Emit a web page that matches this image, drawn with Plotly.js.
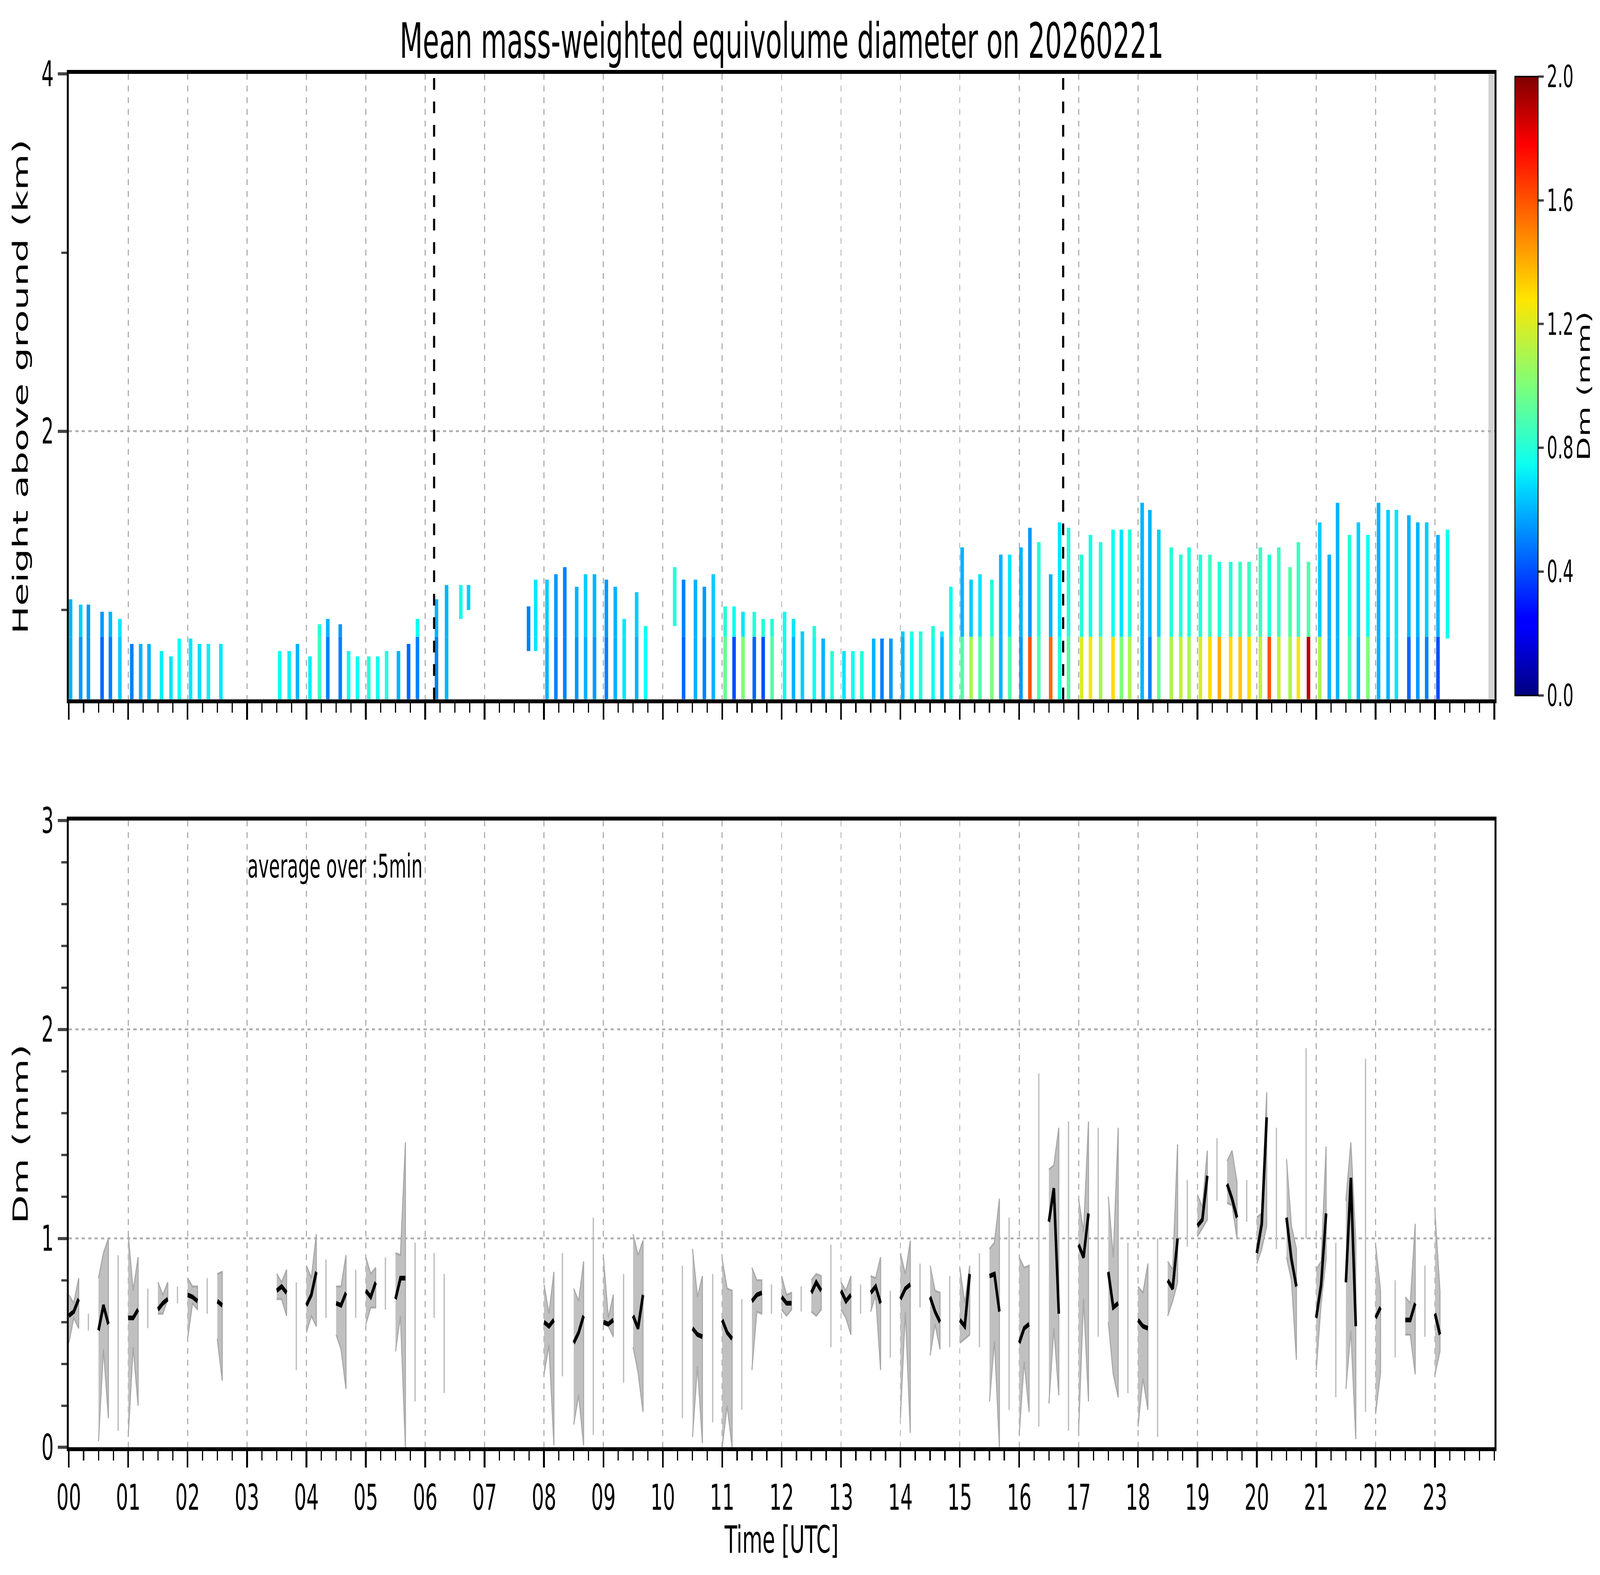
<!DOCTYPE html>
<html><head><meta charset="utf-8">
<script src="https://cdn.plot.ly/plotly-3.0.1.min.js"></script>
<style>html,body{margin:0;padding:0;background:#fff;overflow:hidden}
#chart{width:7442px;height:4031px;transform-origin:0 0}</style>
</head><body><div id="chart"></div>
<script>
// ---- top panel: radar-like stripes (time h, top km, base km, Dm upper, Dm lower) ----
const stT = [0.03,0.2,0.33,0.56,0.7,0.86, 1.06,1.21,1.35,1.56,1.72,1.86, 2.05,2.2,2.35,2.56,
 3.55,3.71,3.85, 4.06,4.22,4.36,4.57,4.71,4.86, 5.05,5.2,5.35,5.55,5.72,5.87,
 6.19,6.36,6.6,6.73, 7.74,7.86,
 8.05,8.2,8.35,8.55,8.7,8.85,9.05,9.2,9.35,9.56,9.71,
 10.2,10.35,10.55,10.7,10.85,11.05,11.2,11.35,11.54,11.69,11.84,
 12.05,12.2,12.35,12.55,12.7,12.85,13.05,13.2,13.35,13.55,13.69,13.84,
 14.04,14.19,14.34,14.55,14.7,14.85,
 15.04,15.19,15.34,15.54,15.69,15.84,16.03,16.18,16.33,16.53,16.68,16.83,
 17.05,17.2,17.37,17.58,17.72,17.86,18.07,18.2,18.35,18.56,18.72,18.86,
 19.05,19.21,19.37,19.56,19.72,19.87,20.06,20.21,20.37,20.56,20.7,20.87,
 21.06,21.22,21.36,21.56,21.71,21.87,22.05,22.21,22.35,22.56,22.71,22.86,23.05,23.21];
const stTop = [1.06,1.03,1.03,0.99,0.99,0.95, 0.81,0.81,0.81,0.77,0.74,0.84, 0.84,0.81,0.81,0.81,
 0.77,0.77,0.81, 0.74,0.92,0.95,0.92,0.77,0.74, 0.74,0.74,0.77,0.77,0.81,0.95,
 1.06,1.14,1.14,1.14, 1.02,1.17,
 1.17,1.2,1.24,1.13,1.2,1.2,1.17,1.13,0.95,1.1,0.91,
 1.24,1.17,1.17,1.13,1.2,1.02,1.02,0.99,0.99,0.95,0.95,
 0.99,0.95,0.88,0.91,0.84,0.77,0.77,0.77,0.77,0.84,0.84,0.84,
 0.88,0.88,0.88,0.91,0.88,1.13,
 1.35,1.17,1.2,1.17,1.31,1.31,1.35,1.46,1.38,1.2,1.49,1.46,
 1.31,1.42,1.38,1.45,1.45,1.45,1.6,1.56,1.45,1.35,1.31,1.35,
 1.31,1.31,1.27,1.27,1.27,1.27,1.35,1.31,1.35,1.24,1.38,1.27,
 1.49,1.31,1.6,1.42,1.49,1.42,1.6,1.56,1.56,1.53,1.49,1.49,1.42,1.45];
const stBase = [0.5,0.5,0.5,0.5,0.5,0.5, 0.5,0.5,0.5,0.5,0.5,0.5, 0.5,0.5,0.5,0.5,
 0.5,0.5,0.5, 0.5,0.5,0.5,0.5,0.5,0.5, 0.5,0.5,0.5,0.5,0.5,0.5,
 0.5,0.5,0.95,1.0, 0.77,0.77,
 0.5,0.5,0.5,0.5,0.5,0.5,0.5,0.5,0.5,0.5,0.5,
 0.91,0.5,0.5,0.5,0.5,0.5,0.5,0.5,0.5,0.5,0.5,
 0.5,0.5,0.5,0.5,0.5,0.5,0.5,0.5,0.5,0.5,0.5,0.5,
 0.5,0.5,0.5,0.5,0.5,0.5,
 0.5,0.5,0.5,0.5,0.5,0.5,0.5,0.5,0.5,0.5,0.5,0.5,
 0.5,0.5,0.5,0.5,0.5,0.5,0.5,0.5,0.5,0.5,0.5,0.5,
 0.5,0.5,0.5,0.5,0.5,0.5,0.5,0.5,0.5,0.5,0.5,0.5,
 0.5,0.5,0.5,0.5,0.5,0.5,0.5,0.5,0.5,0.5,0.5,0.5,0.5,0.84];
const stUp = [0.6,0.65,0.55,0.55,0.6,0.7, 0.6,0.65,0.6,0.75,0.72,0.75, 0.7,0.7,0.72,0.7,
 0.75,0.7,0.6, 0.7,0.8,0.6,0.55,0.72,0.75, 0.75,0.75,0.8,0.72,0.55,0.75,
 0.6,0.6,0.75,0.65, 0.5,0.7,
 0.65,0.55,0.5,0.6,0.65,0.6,0.55,0.6,0.7,0.65,0.75,
 0.8,0.5,0.6,0.55,0.65,0.8,0.75,0.7,0.8,0.8,0.8,
 0.75,0.7,0.65,0.8,0.75,0.8,0.75,0.75,0.75,0.8,0.65,0.65,
 0.65,0.8,0.8,0.8,0.7,0.75,
 0.6,0.65,0.7,0.8,0.6,0.7,0.6,0.55,0.8,0.6,0.7,0.8,
 0.8,0.75,0.8,0.75,0.7,0.8,0.6,0.6,0.65,0.8,0.8,0.8,
 0.8,0.85,0.8,0.8,0.85,0.85,0.85,0.8,0.85,0.9,0.85,0.9,
 0.65,0.6,0.6,0.8,0.65,0.75,0.6,0.65,0.7,0.6,0.6,0.65,0.6,0.75];
const stLow = [0.6,0.55,0.55,0.45,0.5,0.65, 0.5,0.6,0.6,0.72,0.7,0.75, 0.7,0.68,0.72,0.7,
 0.75,0.72,0.6, 0.72,0.85,0.5,0.5,0.75,0.75, 0.8,0.75,0.8,0.6,0.45,0.5,
 0.5,0.6,0.75,0.65, 0.5,0.7,
 0.6,0.5,0.5,0.55,0.6,0.55,0.5,0.6,0.7,0.6,0.75,
 0.8,0.45,0.6,0.5,0.6,0.95,0.4,1.0,0.45,0.4,0.9,
 0.75,0.6,0.65,0.75,0.6,0.8,0.7,0.75,0.8,0.6,0.5,0.55,
 0.6,0.75,0.8,0.75,0.6,0.8,
 0.9,1.1,0.9,1.0,0.6,0.9,0.55,1.6,0.9,1.55,0.8,0.9,
 1.2,1.25,1.1,1.3,1.0,1.1,0.6,0.5,0.95,1.1,1.15,1.1,
 1.2,1.3,1.4,1.3,1.35,1.3,1.15,1.6,1.15,1.1,1.25,1.9,
 1.1,0.6,0.6,0.9,0.6,1.0,0.6,0.6,0.7,0.45,0.55,0.5,0.4,0.75];
const lowLayerTop = 0.85;
const markT = [6.15, 16.74];

// ---- bottom panel: 5-min averages (start hour, mean, min, max) ----
const grpT = [0.0,0.5,1.0,1.5,2.0,2.5,3.5,4.0,4.5,5.0,5.5,8.0,8.5,9.0,9.5,10.5,11.0,11.5,12.0,12.5,13.0,13.5,14.0,14.5,15.0,15.5,16.0,16.5,17.0,17.5,18.0,18.5,19.0,19.5,20.0,20.5,21.0,21.5,22.0,22.5,23.0];
const grpM = [[.63,.65,.71],[.56,.68,.59],[.62,.62,.66],[.66,.69,.71],[.73,.72,.70],[.70,.68],[.75,.77,.74],[.68,.73,.84],[.69,.68,.74],[.75,.72,.79],[.71,.81,.81],
 [.6,.58,.61],[.5,.55,.63],[.6,.59,.61],[.63,.57,.73],[.57,.54,.53],[.61,.55,.52],[.7,.73,.74],[.72,.69,.69],[.74,.79,.75],[.75,.7,.73],[.74,.77,.69],[.71,.76,.78],[.72,.65,.6],
 [.61,.58,.83],[.82,.83,.65],[.5,.57,.59],[1.08,1.24,.64],[.97,.91,1.12],[.84,.67,.69],[.61,.58,.57],[.8,.76,1.0],[1.06,1.09,1.3],[1.26,1.19,1.1],[.93,1.07,1.58],[1.1,.9,.77],
 [.62,.78,1.12],[.79,1.29,.58],[.62,.67],[.61,.61,.69],[.64,.54]];
const grpLo = [[.5,.62,.57],[.03,.47,.14],[.05,.48,.2],[.64,.64,.71],[.52,.69,.66],[.52,.32],[.71,.71,.63],[.55,.63,.58],[.54,.47,.28],[.59,.67,.67],[.46,.63,0],
 [.35,.49,.01],[.11,.25,.01],[.59,.58,.53],[.48,.36,.17],[.05,.39,.02],[0,.2,0],[.37,.65,.64],[.66,.63,.66],[.65,.63,.66],[.66,.62,.54],[.65,.73,.37],[.14,.65,.07],[.44,.59,.47],
 [.5,.52,.54],[.22,.51,0],[.06,.41,.17],[.21,.57,.25],[.08,.71,.22],[.6,.35,.24],[.1,.33,.18],[.63,.7,.79],[1.01,1.05,1.09],[1.17,1.16,1.0],[.88,.95,1.06],[.91,.8,.42],
 [.37,.69,.9],[.28,.56,.04],[.16,.36],[.54,.54,.35],[.35,.46]];
const grpHi = [[.73,.69,.81],[.81,.93,1.0],[1.02,.75,.91],[.79,.73,.79],[.81,.77,.77],[.83,.84],[.83,.79,.85],[.87,.81,1.02],[.77,.77,.92],[.91,.83,.86],[.93,.92,1.46],
 [.78,.64,.84],[.76,.7,.89],[.91,.62,.73],[1.02,.92,.99],[.95,.72,.82],[.9,.76,.75],[.86,.8,.8],[.82,.73,.74],[.8,.83,.82],[.79,.75,.82],[.82,.81,.91],[.93,.83,.99],[.87,.75,.74],
 [.86,.69,.87],[.95,.98,1.19],[.91,.86,.87],[1.33,1.35,1.53],[1.19,1.03,1.56],[1.2,.91,1.53],[.77,.74,.88],[.89,.85,1.45],[1.21,1.15,1.42],[1.37,1.42,1.27],[1.1,1.12,1.7],[1.38,1.06,.95],
 [.85,.89,1.44],[1.18,1.46,.99],[.97,.75],[.72,.69,1.07],[1.12,.75]];
const vlT  = [0.33,0.83,1.33,1.83,2.33,3.83,4.33,4.83,5.33,5.83,6.15,6.32,8.31,8.83,9.34,10.33,10.84,11.33,11.83,12.33,12.83,13.33,13.83,14.33,14.83,15.33,15.83,16.33,16.83,17.33,17.83,18.33,18.83,19.33,19.83,20.33,20.83,21.33,21.83,22.33,22.83];
const vlLo = [.56,.08,.57,.69,.64,.37,.62,.62,.66,.22,.62,.26,.34,.06,.31,.14,.12,.18,.64,.65,.48,.64,.43,.67,.48,.48,.18,.1,.08,.53,.26,.05,.96,1.18,1.08,.95,1.0,.24,.17,.43,.53];
const vlHi = [.64,.92,.76,.77,.81,.79,.9,.85,.91,.98,.93,.83,.93,1.1,.83,.87,.83,.71,.78,.77,.97,.78,.75,.88,.82,.93,1.1,1.79,1.56,1.53,.98,1.0,1.28,1.48,1.28,1.53,1.91,.98,1.86,.8,.87];
const hourLabels = Array.from({length:24},(_,i)=>String(i).padStart(2,'0'));
const cbTicks = [0,0.4,0.8,1.2,1.6,2.0];

// fit the 7442x4031 figure into the actual window (the window may be narrower)
const el=document.getElementById('chart');
const sx=Math.min(1,(window.innerWidth||7442)/7442), sy=Math.min(1,(window.innerHeight||4031)/4031);
el.style.transform='scale('+sx+','+sy+')';

// ---- build traces ----
const STEP = 5/60;
const lowX=[],lowB=[],lowH=[],lowC=[],upX=[],upB=[],upH=[],upC=[];
stT.forEach((t,i)=>{
  const b=stBase[i], top=stTop[i];
  if (b < lowLayerTop) { const e=Math.min(top,lowLayerTop); lowX.push(t); lowB.push(b); lowH.push(e-b); lowC.push(stLow[i]); }
  if (top > lowLayerTop) { const s=Math.max(b,lowLayerTop); upX.push(t); upB.push(s); upH.push(top-s); upC.push(stUp[i]); }
});
const jet=[[0,'#00007f'],[0.11,'#0000ff'],[0.125,'#0000ff'],[0.34,'#00dcff'],[0.375,'#0dfff0'],[0.5,'#7dff7a'],[0.64,'#ffe500'],[0.89,'#ff0000'],[1,'#7f0000']];
const traces=[];
traces.push({type:'bar',x:lowX,base:lowB,y:lowH,width:0.06,marker:{color:lowC,coloraxis:'coloraxis',line:{width:0}},xaxis:'x',yaxis:'y',hoverinfo:'skip',showlegend:false});
traces.push({type:'bar',x:upX,base:upB,y:upH,width:0.06,marker:{color:upC,coloraxis:'coloraxis',line:{width:0}},xaxis:'x',yaxis:'y',hoverinfo:'skip',showlegend:false});

const vx=[],vy=[];
vlT.forEach((t,i)=>{vx.push(t,t,null); vy.push(vlLo[i],vlHi[i],null);});
traces.push({type:'scatter',mode:'lines',x:vx,y:vy,line:{color:'#bdbdbd',width:6},xaxis:'x2',yaxis:'y2',hoverinfo:'skip',showlegend:false});
grpT.forEach((t0,g)=>{
  const ts=grpM[g].map((_,k)=>t0+k*STEP);
  traces.push({type:'scatter',mode:'lines',x:ts.concat(ts.slice().reverse()),y:grpHi[g].concat(grpLo[g].slice().reverse()),
    fill:'toself',fillcolor:'#c0c0c0',line:{color:'#a8a8a8',width:5},xaxis:'x2',yaxis:'y2',hoverinfo:'skip',showlegend:false});
});
const mx=[],my=[];
grpT.forEach((t0,g)=>{grpM[g].forEach((v,k)=>{mx.push(t0+k*STEP); my.push(v);}); mx.push(null); my.push(null);});
traces.push({type:'scatter',mode:'lines',x:mx,y:my,line:{color:'#000',width:12},xaxis:'x2',yaxis:'y2',hoverinfo:'skip',showlegend:false});

const F='DejaVu Sans';
const xCommon={range:[0,24],dtick:1,tick0:0,showgrid:true,gridcolor:'#b0b0b0',griddash:'dash',gridwidth:5,
  showline:true,linecolor:'#000',linewidth:10,mirror:true,ticks:'outside',ticklen:42,tickwidth:8,tickcolor:'#000',
  minor:{dtick:0.25,tick0:0,ticks:'outside',ticklen:24,tickwidth:6,tickcolor:'#000',showgrid:false},zeroline:false,
  domain:[0.043,0.934],tickfont:{family:F,size:90,color:'#000'}};
const shapes=markT.map(t=>({type:'line',xref:'x',yref:'paper',x0:t,x1:t,y0:0.556,y1:0.953,line:{color:'#000',width:10,dash:'dash'}}));
shapes.push({type:'rect',xref:'x',yref:'paper',x0:23.9,x1:24,y0:0.556,y1:0.953,fillcolor:'#d3d3d3',line:{width:0},layer:'below'});

const layout={
  width:7442,height:4031,margin:{l:0,r:0,t:0,b:0},paper_bgcolor:'#fff',plot_bgcolor:'#fff',barmode:'overlay',
  font:{family:F,color:'#000'},
  title:{text:'Mean mass-weighted equivolume diameter on 20260221',x:0.4886,xanchor:'center',y:0.974,yanchor:'middle',xref:'paper',yref:'paper',font:{family:F,size:124,color:'#000'}},
  xaxis:Object.assign({},xCommon,{anchor:'y',showticklabels:false}),
  yaxis:{domain:[0.556,0.953],range:[0.5,4],tickvals:[2,4],ticktext:['2','4'],showgrid:true,gridcolor:'#b0b0b0',griddash:'dash',gridwidth:5,
    showline:true,linecolor:'#000',linewidth:10,mirror:true,ticks:'outside',ticklen:42,tickwidth:8,
    minor:{tickvals:[1,3],ticks:'outside',ticklen:24,tickwidth:6,showgrid:false},zeroline:false,
    tickfont:{family:F,size:90},title:{text:'Height above ground (km)',font:{family:F,size:96},standoff:36}},
  xaxis2:Object.assign({},xCommon,{anchor:'y2',tickvals:hourLabels.map((_,i)=>i),ticktext:hourLabels,
    title:{text:'Time [UTC]',font:{family:F,size:96},standoff:16}}),
  yaxis2:{domain:[0.081,0.479],range:[0,3],dtick:1,showgrid:true,gridcolor:'#b0b0b0',griddash:'dash',gridwidth:5,
    showline:true,linecolor:'#000',linewidth:10,mirror:true,ticks:'outside',ticklen:42,tickwidth:8,
    minor:{dtick:0.2,ticks:'outside',ticklen:24,tickwidth:6,showgrid:false},zeroline:false,
    tickfont:{family:F,size:90},title:{text:'Dm (mm)',font:{family:F,size:96},standoff:36}},
  coloraxis:{cmin:0,cmax:2,colorscale:jet,
    colorbar:{x:0.9455,xanchor:'left',xref:'paper',y:0.556,yanchor:'bottom',yref:'paper',len:0.398,lenmode:'fraction',thickness:108,
      outlinewidth:4,outlinecolor:'#000',tickvals:cbTicks,ticktext:cbTicks.map(v=>v.toFixed(1)),ticks:'outside',ticklen:24,tickwidth:6,
      tickfont:{family:F,size:78},title:{text:'Dm (mm)',side:'right',font:{family:F,size:80}}}},
  shapes:shapes,
  annotations:[{xref:'x2',yref:'y2',x:3.0,y:2.78,text:'average over :5min',showarrow:false,xanchor:'left',yanchor:'middle',font:{family:F,size:83,color:'#000'}}]
};
Plotly.newPlot('chart',traces,layout,{staticPlot:true});
</script></body></html>
